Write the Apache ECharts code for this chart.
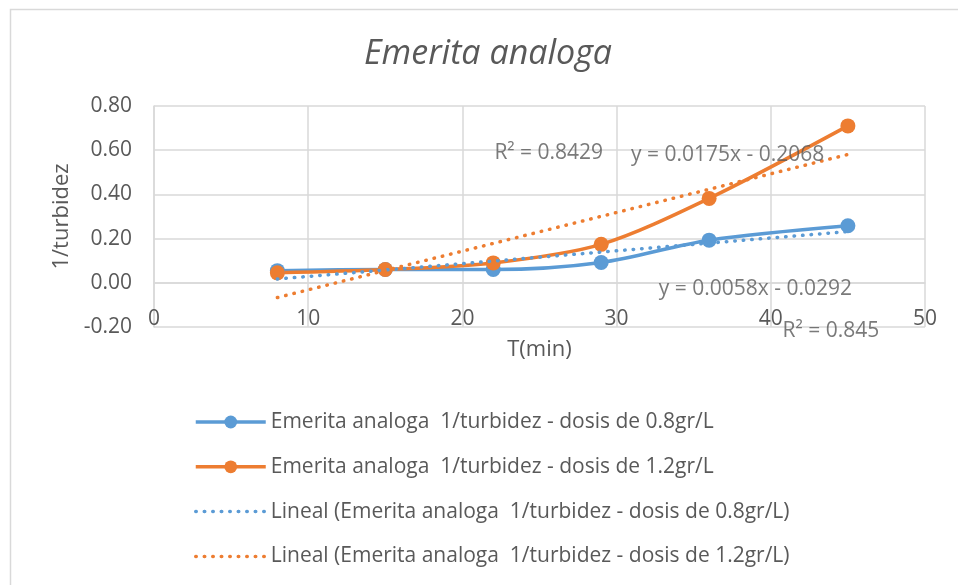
<!DOCTYPE html>
<html>
<head>
<meta charset="utf-8">
<script src="https://cdn.jsdelivr.net/npm/echarts@6/dist/echarts.min.js"></script>
<style>
html,body{margin:0;padding:0;background:#fff;}
#chart{width:958px;height:585px;}
</style>
</head>
<body>
<div id="chart"></div>
<script>
// ---- data ----
var timeMin = [8, 15, 22, 29, 36, 45];
var dosis08 = [0.055, 0.060, 0.060, 0.092, 0.193, 0.258];
var dosis12 = [0.045, 0.060, 0.090, 0.174, 0.382, 0.710];
var trendX = [8, 45];
var trend08 = [0.0172, 0.2318];
var trend12 = [-0.0668, 0.5807];
var xTicks = [0, 10, 20, 30, 40, 50];
var yTicks = [-0.20, 0.00, 0.20, 0.40, 0.60, 0.80];
var seriesNames = [
  'Emerita analoga  1/turbidez - dosis de 0.8gr/L',
  'Emerita analoga  1/turbidez - dosis de 1.2gr/L',
  'Lineal (Emerita analoga  1/turbidez - dosis de 0.8gr/L)',
  'Lineal (Emerita analoga  1/turbidez - dosis de 1.2gr/L)'
];
var annoText = ['R\u00b2 = 0.8429', 'y = 0.0175x - 0.2068', 'y = 0.0058x - 0.0292', 'R\u00b2 = 0.845'];
var annoX = [25.6, 37.2, 39.0, 43.9];
var annoY = [0.587, 0.578, -0.029, -0.219];

function pairs(xs, ys){ return xs.map(function(x,i){ return [x, ys[i]]; }); }

var FONT = 'Open Sans';
var TXT = '#595959';
var GRIDC = '#d9d9d9';
var BLUE = '#5b9bd5';
var ORANGE = '#ed7d31';

var chart = echarts.init(document.getElementById('chart'), null, {renderer:'canvas'});
var option = {
  backgroundColor: '#fff',
  animation: false,
  textStyle: {fontFamily: FONT, color: TXT},
  title: {
    text: 'Emerita analoga',
    left: 359,
    top: 32,
    textStyle: {fontFamily: FONT, fontStyle: 'italic', fontWeight: 'normal', fontSize: 34, color: TXT}
  },
  grid: {left: 154, right: 33, top: 106, bottom: 258, containLabel: false},
  xAxis: {
    type: 'value', min: xTicks[0], max: xTicks[xTicks.length-1], interval: 10,
    name: 'T(min)', nameLocation: 'middle', nameGap: 12,
    nameTextStyle: {fontFamily: FONT, fontSize: 22, color: TXT},
    axisLine: {onZero: true, lineStyle: {color: GRIDC, width: 1.5}},
    axisTick: {show: false},
    axisLabel: {fontFamily: FONT, fontSize: 21, color: TXT, margin: -18},
    splitLine: {show: true, lineStyle: {color: GRIDC, width: 1.5}}
  },
  yAxis: {
    type: 'value', min: yTicks[0], max: yTicks[yTicks.length-1], interval: 0.2,
    name: '1/turbidez', nameLocation: 'middle', nameGap: 77, nameRotate: 90,
    nameTextStyle: {fontFamily: FONT, fontSize: 22, color: TXT},
    axisLine: {show: true, onZero: false, lineStyle: {color: GRIDC, width: 1.5}},
    axisTick: {show: false},
    axisLabel: {fontFamily: FONT, fontSize: 21, color: TXT, margin: 22,
      formatter: function(v){ return v.toFixed(2); }},
    splitLine: {show: true, lineStyle: {color: GRIDC, width: 1.5}}
  },
  legend: {
    orient: 'vertical', left: 189, top: 405,
    itemWidth: 70, itemHeight: 16, itemGap: 20.8,
    lineStyle: {width: 3.5},
    data: [
      {name: seriesNames[0]},
      {name: seriesNames[1]},
      {name: seriesNames[2], itemStyle: {opacity: 0}},
      {name: seriesNames[3], itemStyle: {opacity: 0}}
    ],
    textStyle: {fontFamily: FONT, fontSize: 21, lineHeight: 24, color: TXT, padding: [0,0,0,0]}
  },
  graphic: [{
    type: 'rect', left: 8, top: 7, silent: true,
    shape: {width: 1000, height: 700},
    style: {fill: 'none', stroke: GRIDC, lineWidth: 1.5}
  }],
  series: [
    {
      name: seriesNames[0], type: 'line', data: pairs(timeMin, dosis08),
      smooth: 0.3, symbol: 'circle', symbolSize: 15, z: 3,
      lineStyle: {color: BLUE, width: 3.5}, itemStyle: {color: BLUE}
    },
    {
      name: seriesNames[1], type: 'line', data: pairs(timeMin, dosis12),
      smooth: 0.3, symbol: 'circle', symbolSize: 15, z: 3,
      lineStyle: {color: ORANGE, width: 3.5}, itemStyle: {color: ORANGE}
    },
    {
      name: seriesNames[2], type: 'line', data: pairs(trendX, trend08),
      symbol: 'none', z: 4,
      lineStyle: {color: BLUE, width: 3.5, type: [0.5, 8], cap: 'round'}, itemStyle: {color: BLUE}
    },
    {
      name: seriesNames[3], type: 'line', data: pairs(trendX, trend12),
      symbol: 'none', z: 4,
      lineStyle: {color: ORANGE, width: 3.5, type: [0.5, 8], cap: 'round'}, itemStyle: {color: ORANGE}
    },
    {
      name: 'annotations', type: 'scatter', clip: false, silent: true, z: 10,
      symbolSize: 0,
      data: annoX.map(function(x,i){ return {value: [x, annoY[i]], label: {formatter: annoText[i]}}; }),
      label: {show: true, position: 'inside', fontFamily: FONT, fontSize: 21, color: TXT}
    }
  ]
};
chart.setOption(option);
</script>
</body>
</html>
